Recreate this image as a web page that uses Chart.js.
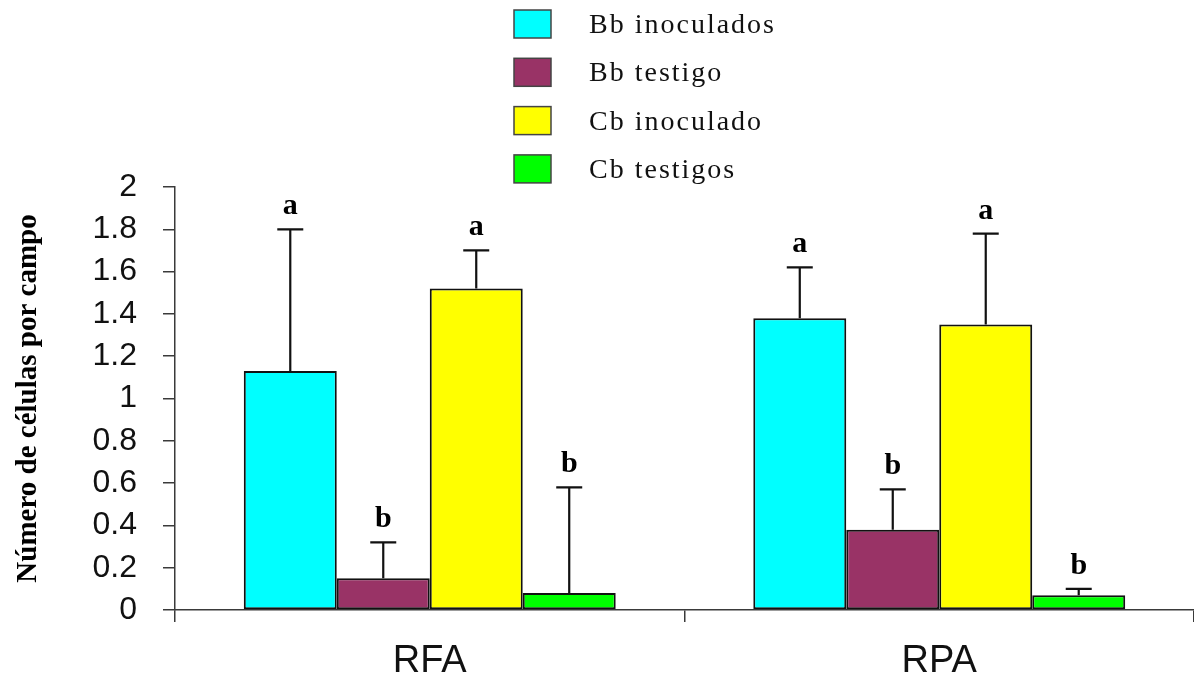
<!DOCTYPE html>
<html>
<head>
<meta charset="utf-8">
<script src="https://cdn.jsdelivr.net/npm/chart.js@4/dist/chart.umd.min.js"></script>
<style>
  html, body { margin: 0; padding: 0; background: #ffffff; }
  #wrap { width: 1194px; height: 679px; }
</style>
</head>
<body>
<div id="wrap"><canvas id="c" width="1194" height="679"></canvas></div>
<script>
// Sites sampled
const categories = ['RFA', 'RPA'];

// Mean number of cells per field
const bbInoculados = [1.13, 1.38];
const bbTestigo    = [0.15, 0.38];
const cbInoculado  = [1.52, 1.35];
const cbTestigos   = [0.08, 0.07];

// Upper whisker (standard deviation)
const bbInoculadosErr = [0.67, 0.24];
const bbTestigoErr    = [0.17, 0.19];
const cbInoculadoErr  = [0.18, 0.43];
const cbTestigosErr   = [0.50, 0.03];

// Significance groups
const bbInoculadosSig = ['a', 'a'];
const bbTestigoSig    = ['b', 'b'];
const cbInoculadoSig  = ['a', 'a'];
const cbTestigosSig   = ['b', 'b'];

const seriesNames  = ['Bb inoculados', 'Bb testigo', 'Cb inoculado', 'Cb testigos'];
const seriesColors = ['#00FFFF', '#993366', '#FFFF00', '#00FF00'];

const yTickLabels = ['0', '0.2', '0.4', '0.6', '0.8', '1', '1.2', '1.4', '1.6', '1.8', '2'];
const yTitle = 'Número de células por campo';

const seriesValues = [bbInoculados, bbTestigo, cbInoculado, cbTestigos];
const seriesErrors = [bbInoculadosErr, bbTestigoErr, cbInoculadoErr, cbTestigosErr];
const seriesSig    = [bbInoculadosSig, bbTestigoSig, cbInoculadoSig, cbTestigosSig];

const AXIS_COLOR = '#3a3a3a';

// One-sided error bars with the group letter above each whisker
const errorBars = {
  id: 'errorBars',
  afterDatasetsDraw(chart) {
    const ctx = chart.ctx;
    const yScale = chart.scales.y;
    ctx.save();
    ctx.strokeStyle = '#111';
    ctx.lineWidth = 2.2;
    ctx.fillStyle = '#000';
    ctx.font = 'bold 30px "Liberation Serif", "Times New Roman", serif';
    ctx.textAlign = 'center';
    ctx.textBaseline = 'alphabetic';
    chart.data.datasets.forEach((ds, i) => {
      const meta = chart.getDatasetMeta(i);
      meta.data.forEach((bar, j) => {
        const v = seriesValues[i][j];
        const e = seriesErrors[i][j];
        const yTop = yScale.getPixelForValue(v + e);
        const yBar = yScale.getPixelForValue(v);
        ctx.beginPath();
        ctx.moveTo(bar.x, yBar);
        ctx.lineTo(bar.x, yTop);
        ctx.moveTo(bar.x - 13, yTop);
        ctx.lineTo(bar.x + 13, yTop);
        ctx.stroke();
        ctx.fillText(seriesSig[i][j], bar.x, yTop - 15);
      });
    });
    ctx.restore();
  }
};

// Legend stacked above the plot
const sideLegend = {
  id: 'sideLegend',
  afterDraw(chart) {
    const ctx = chart.ctx;
    ctx.save();
    ctx.font = '28px "Liberation Serif", "Times New Roman", serif';
    ctx.textAlign = 'left';
    ctx.textBaseline = 'alphabetic';
    if ('letterSpacing' in ctx) ctx.letterSpacing = '2px';
    seriesNames.forEach((name, k) => {
      const top = 10 + k * 48.3;
      ctx.fillStyle = seriesColors[k];
      ctx.fillRect(514, top, 37, 28);
      ctx.strokeStyle = '#444';
      ctx.lineWidth = 1.5;
      ctx.strokeRect(514, top, 37, 28);
      ctx.fillStyle = '#111';
      ctx.fillText(name, 589, top + 23);
    });
    ctx.restore();
  }
};

new Chart(document.getElementById('c'), {
  type: 'bar',
  data: {
    labels: categories,
    datasets: seriesNames.map((name, i) => ({
      label: name,
      data: seriesValues[i],
      backgroundColor: seriesColors[i],
      borderColor: '#111',
      borderWidth: 2,
      borderSkipped: false,
      categoryPercentage: 0.73,
      barPercentage: 1.0
    }))
  },
  options: {
    responsive: false,
    animation: false,
    devicePixelRatio: 1,
    layout: { padding: { top: 187, right: 0, bottom: 0, left: 0 } },
    plugins: {
      legend: { display: false },
      tooltip: { enabled: false }
    },
    scales: {
      x: {
        afterFit(s) { s.height = 69; },
        grid: {
          offset: true,
          drawOnChartArea: false,
          drawTicks: true,
          tickLength: 12,
          color: AXIS_COLOR,
          lineWidth: 1.5
        },
        border: { display: true, color: AXIS_COLOR, width: 1.5 },
        ticks: {
          color: '#111',
          padding: 17,
          font: { family: '"Liberation Sans", Arial, sans-serif', size: 38 }
        }
      },
      y: {
        min: 0,
        max: 2,
        afterFit(s) { s.width = 175; },
        grid: {
          drawOnChartArea: false,
          drawTicks: true,
          tickLength: 12,
          color: AXIS_COLOR,
          lineWidth: 1.5
        },
        border: { display: true, color: AXIS_COLOR, width: 1.5 },
        ticks: {
          stepSize: 0.2,
          autoSkip: false,
          padding: 26,
          color: '#111',
          font: { family: '"Liberation Sans", Arial, sans-serif', size: 32 },
          callback: (value, index) => yTickLabels[index]
        },
        title: {
          display: true,
          text: yTitle,
          color: '#000',
          padding: { top: 11, bottom: 0 },
          font: { family: '"Liberation Serif", "Times New Roman", serif', size: 29, weight: 'bold' }
        }
      }
    }
  },
  plugins: [errorBars, sideLegend]
});
</script>
</body>
</html>
